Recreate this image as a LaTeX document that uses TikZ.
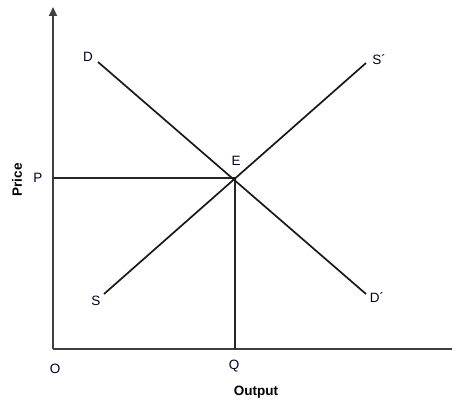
\documentclass[tikz,border=0pt]{standalone}
\usepackage{fontspec}
\setmainfont{Liberation Sans}
\usetikzlibrary{arrows.meta}
\begin{document}
\begin{tikzpicture}[x=1pt,y=-1pt,
  axis/.style={draw=black!75,line width=1.9pt},
  curve/.style={draw=black!90,line width=1.7pt},
  guide/.style={draw=black!85,line width=1.7pt},
  lbl/.style={font=\fontsize{13.5}{15}\selectfont,inner sep=0pt,text=black!85!blue},
  ttl/.style={font=\bfseries\fontsize{13.5}{15}\selectfont,inner sep=0pt}]
\useasboundingbox (0,0) rectangle (452,401);
% axes
\coordinate (O) at (53,349);
\coordinate (ytop) at (53,7);
\coordinate (xend) at (452,349);
\draw[axis,-{Triangle[length=9pt,width=8pt]}] (O) -- (ytop);
\draw[axis] (O) -- (xend);
% equilibrium
\coordinate (E) at (235,178);
\coordinate (Pa) at (53,178);
\coordinate (Qa) at (235,349);
\draw[guide] (Pa) -- (E);
\draw[guide] (Qa) -- (E);
% curves
\coordinate (D1) at (98,62);
\coordinate (D2) at (366,294);
\coordinate (S1) at (104,294);
\coordinate (S2) at (366,63);
\draw[curve] (D1) -- (D2);
\draw[curve] (S1) -- (S2);
% labels
\node[lbl] (lD) at (88,57) {D};
\node[lbl] (lD2) at (377,298) {D´};
\node[lbl] (lS) at (96,301) {S};
\node[lbl] (lS2) at (379,60) {S´};
\node[lbl] (lE) at (236,161) {E};
\node[lbl] (lP) at (38,178) {P};
\node[lbl] (lO) at (55,369) {O};
\node[lbl] (lQ) at (234,366) {Q};
\node[ttl] (lOut) at (256,392) {Output};
\node[ttl,rotate=90] (lPrice) at (17,180) {Price};
\end{tikzpicture}
\end{document}
